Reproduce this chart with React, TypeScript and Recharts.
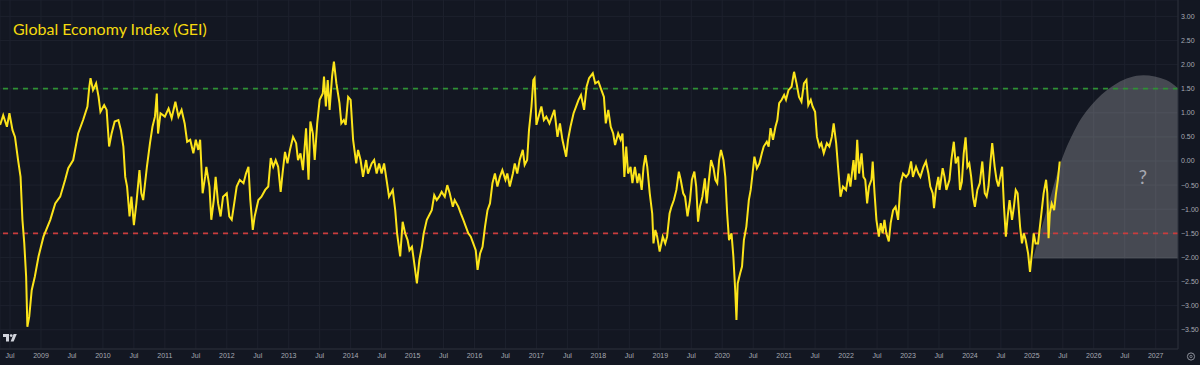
import React from 'react';
import {
  ComposedChart,
  Line,
  Area,
  XAxis,
  YAxis,
  CartesianGrid,
  ReferenceLine,
  ReferenceDot
} from 'recharts';

// GEI readings, decimal years in segments
const dates2008 = [2008.34, 2008.39, 2008.45, 2008.49, 2008.54, 2008.58, 2008.63, 2008.67, 2008.70, 2008.73, 2008.76, 2008.78, 2008.81, 2008.85, 2008.90, 2008.96,
  2009.04, 2009.15, 2009.23, 2009.31, 2009.39, 2009.44, 2009.52, 2009.60, 2009.68, 2009.75, 2009.78, 2009.80, 2009.84, 2009.89, 2009.93, 2009.96,
  2010.02, 2010.06, 2010.10, 2010.14, 2010.19, 2010.25, 2010.29, 2010.33, 2010.36, 2010.39, 2010.43, 2010.46, 2010.50, 2010.54, 2010.59, 2010.62, 2010.65, 2010.71, 2010.76, 2010.80, 2010.84, 2010.87, 2010.89, 2010.93,
  2011.00, 2011.06, 2011.11, 2011.17, 2011.22, 2011.27, 2011.32, 2011.36];
const gei2008 = [0.75, 0.95, 0.71, 0.99, 0.64, 0.50, 0.02, -0.33, -1.22, -1.71, -2.40, -3.44, -3.23, -2.68, -2.40, -1.98,
  -1.57, -1.22, -0.88, -0.74, -0.39, -0.15, 0.02, 0.57, 0.85, 1.13, 1.54, 1.72, 1.47, 1.61, 1.33, 1.02,
  1.16, 1.06, 0.30, 0.57, 0.82, 0.85, 0.64, 0.30, -0.33, -0.53, -1.15, -0.74, -1.33, -0.88, -0.19, -0.67, -0.81, -0.12, 0.37, 0.71, 0.92, 1.40, 0.57, 0.99,
  0.92, 1.09, 0.89, 1.23, 0.92, 1.06, 0.78, 0.40];

const dates2011 = [2011.41, 2011.46, 2011.50, 2011.54, 2011.57, 2011.61, 2011.65, 2011.67, 2011.72, 2011.75, 2011.79, 2011.82, 2011.86, 2011.90, 2011.94,
  2012.00, 2012.04, 2012.08, 2012.12, 2012.16, 2012.21, 2012.27, 2012.31, 2012.35, 2012.38, 2012.42, 2012.45, 2012.51, 2012.56, 2012.62, 2012.67, 2012.71, 2012.75, 2012.79, 2012.83, 2012.87, 2012.90, 2012.94, 2012.98,
  2013.02, 2013.07, 2013.12, 2013.15, 2013.19, 2013.23, 2013.28, 2013.32, 2013.35, 2013.39, 2013.42, 2013.46, 2013.50, 2013.55, 2013.57, 2013.60, 2013.63, 2013.66, 2013.70, 2013.73, 2013.77, 2013.82, 2013.85, 2013.89, 2013.92, 2013.96,
  2014.00, 2014.04, 2014.09, 2014.12, 2014.16, 2014.20, 2014.25, 2014.28, 2014.34, 2014.38, 2014.42, 2014.46, 2014.50, 2014.54, 2014.58, 2014.62];
const gei2011 = [0.44, 0.16, 0.44, 0.23, 0.44, -0.67, -0.33, -0.12, -0.53, -1.22, -0.81, -0.33, -0.88, -1.15, -0.74,
  -0.67, -1.15, -1.22, -0.88, -0.53, -0.39, -0.46, -0.26, -0.12, -0.81, -1.43, -1.15, -0.81, -0.74, -0.60, -0.53, 0.06, -0.12, 0.02, -0.12, -0.64, -0.26, 0.19, -0.05,
  0.23, 0.50, 0.37, 0.02, 0.16, -0.19, 0.68, -0.39, 0.82, 0.57, 0.02, 0.78, 1.27, 1.40, 1.75, 1.13, 1.68, 1.06, 1.75, 2.06, 1.61, 1.20, 0.78, 0.85, 0.75, 1.33,
  1.27, 0.44, -0.05, 0.23, 0.02, -0.33, 0.02, -0.26, -0.05, 0.02, -0.26, -0.05, -0.26, -0.05, -0.39, -0.74];

const dates2014 = [2014.68, 2014.72, 2014.75, 2014.80, 2014.84, 2014.88, 2014.92, 2014.95, 2014.99,
  2015.02, 2015.07, 2015.11, 2015.15, 2015.18, 2015.23, 2015.27, 2015.31, 2015.35, 2015.39, 2015.43, 2015.47, 2015.52, 2015.56, 2015.60, 2015.65, 2015.68, 2015.74, 2015.78, 2015.82, 2015.86, 2015.90, 2015.94, 2015.98,
  2016.02, 2016.05, 2016.09, 2016.13, 2016.17, 2016.21, 2016.25, 2016.29, 2016.33, 2016.37, 2016.41, 2016.45, 2016.50, 2016.53, 2016.57, 2016.62, 2016.65, 2016.69, 2016.73, 2016.78, 2016.81, 2016.85, 2016.88, 2016.92, 2016.95, 2016.97,
  2017.00, 2017.05, 2017.08, 2017.12, 2017.16, 2017.21, 2017.25, 2017.29, 2017.34, 2017.38, 2017.42, 2017.48, 2017.51, 2017.55, 2017.60, 2017.64, 2017.68, 2017.72, 2017.77, 2017.81, 2017.85];
const gei2014 = [-0.60, -1.02, -1.50, -1.98, -1.26, -1.50, -1.64, -1.85, -1.78,
  -2.05, -2.54, -2.05, -1.78, -1.50, -1.22, -1.12, -1.02, -0.71, -0.81, -0.74, -0.64, -0.74, -0.50, -0.67, -0.95, -0.81, -0.95, -1.09, -1.22, -1.36, -1.50, -1.57, -1.71,
  -1.85, -2.26, -1.92, -1.78, -1.36, -1.02, -0.88, -0.46, -0.26, -0.53, -0.33, -0.19, -0.39, -0.26, -0.53, -0.26, -0.05, -0.26, 0.02, 0.23, -0.08, 0.02, 0.64, 1.13, 1.68, 1.72,
  0.75, 0.99, 1.13, 0.85, 0.92, 0.78, 0.92, 1.06, 0.50, 0.78, 0.44, 0.09, 0.44, 0.71, 0.99, 1.13, 1.27, 1.37, 1.06, 1.54, 1.72];

const dates2017 = [2017.91, 2017.95,
  2018.00, 2018.05, 2018.09, 2018.12, 2018.16, 2018.20, 2018.24, 2018.27, 2018.32, 2018.36, 2018.39, 2018.42, 2018.45, 2018.48, 2018.52, 2018.55, 2018.59, 2018.63, 2018.66, 2018.70, 2018.73, 2018.76, 2018.79, 2018.83, 2018.87, 2018.89, 2018.92, 2018.95, 2018.99,
  2019.04, 2019.08, 2019.11, 2019.15, 2019.18, 2019.22, 2019.26, 2019.30, 2019.33, 2019.37, 2019.40, 2019.44, 2019.48, 2019.51, 2019.55, 2019.58, 2019.61, 2019.64, 2019.68, 2019.72, 2019.75, 2019.78, 2019.82, 2019.86, 2019.89, 2019.92, 2019.95, 2019.98,
  2020.02, 2020.05, 2020.08, 2020.11, 2020.15, 2020.18, 2020.21, 2020.23, 2020.25, 2020.29, 2020.32, 2020.35, 2020.39, 2020.43, 2020.46, 2020.49, 2020.52, 2020.56, 2020.60, 2020.64, 2020.67, 2020.72, 2020.75, 2020.78, 2020.82, 2020.86, 2020.89, 2020.92, 2020.96,
  2021.00, 2021.03, 2021.07];
const gei2017 = [1.82, 1.61,
  1.65, 1.47, 1.33, 0.78, 1.06, 0.71, 0.57, 0.33, 0.57, 0.44, 0.57, -0.33, 0.30, -0.26, -0.12, -0.46, -0.12, -0.46, -0.26, -0.60, -0.12, 0.12, -0.12, -0.67, -1.09, -1.71, -1.43, -1.57, -1.88,
  -1.57, -1.71, -1.57, -1.09, -0.95, -0.81, -0.60, -0.22, -0.39, -0.67, -0.74, -1.15, -0.81, -0.39, -0.22, -0.53, -1.26, -0.95, -0.74, -0.36, -0.88, -0.46, 0.02, -0.15, -0.39, -0.46, 0.02, 0.23,
  0.02, -0.33, -1.09, -1.64, -1.50, -1.98, -2.68, -3.30, -2.54, -2.33, -2.19, -1.64, -1.36, -0.81, -0.60, -0.26, 0.09, -0.15, -0.05, 0.16, 0.30, 0.40, 0.30, 0.68, 0.44, 0.71, 0.85, 1.20, 1.27,
  1.37, 1.27, 1.47];

const dates2021 = [2021.12, 2021.16, 2021.20, 2021.24, 2021.28, 2021.32, 2021.36, 2021.39, 2021.43, 2021.46, 2021.50, 2021.53, 2021.57, 2021.60, 2021.64, 2021.69, 2021.73, 2021.77, 2021.80, 2021.84, 2021.87, 2021.91, 2021.95,
  2022.00, 2022.04, 2022.07, 2022.12, 2022.15, 2022.18, 2022.21, 2022.25, 2022.28, 2022.31, 2022.34, 2022.37, 2022.41, 2022.43, 2022.46, 2022.49, 2022.53, 2022.56, 2022.59, 2022.62, 2022.65, 2022.69, 2022.72, 2022.76, 2022.80, 2022.84, 2022.88, 2022.92, 2022.97,
  2023.01, 2023.05, 2023.08, 2023.13, 2023.17, 2023.20, 2023.25, 2023.29, 2023.33, 2023.36, 2023.40, 2023.42, 2023.45, 2023.49];
const gei2021 = [1.54, 1.85, 1.61, 1.33, 1.23, 1.61, 1.68, 1.16, 1.27, 1.13, 1.02, 0.50, 0.30, 0.37, 0.16, 0.37, 0.30, 0.50, 0.78, 0.37, -0.12, -0.74, -0.53,
  -0.60, -0.26, -0.53, 0.02, -0.39, 0.44, -0.26, 0.16, -0.33, -0.39, -0.88, -0.53, -0.39, -0.01, -0.67, -1.22, -1.57, -1.29, -1.50, -1.22, -1.50, -1.67, -1.29, -1.02, -0.95, -1.22, -0.46, -0.26, -0.33,
  -0.26, -0.01, -0.33, -0.12, -0.26, -0.33, -0.12, -0.01, -0.26, -0.53, -0.67, -0.98, -0.60, -0.33];

const dates2023 = [2023.51, 2023.56, 2023.59, 2023.62, 2023.67, 2023.70, 2023.74, 2023.77, 2023.81, 2023.84, 2023.87, 2023.90, 2023.93, 2023.96, 2023.99,
  2024.02, 2024.05, 2024.08, 2024.12, 2024.16, 2024.20, 2024.24, 2024.27, 2024.30, 2024.33, 2024.36, 2024.40, 2024.43, 2024.46, 2024.49, 2024.52, 2024.55, 2024.58, 2024.61, 2024.64, 2024.68, 2024.71, 2024.74, 2024.77, 2024.81, 2024.84, 2024.87, 2024.90, 2024.94, 2024.97,
  2025.00, 2025.03, 2025.06, 2025.10, 2025.13, 2025.16, 2025.19, 2025.23, 2025.25, 2025.27, 2025.29, 2025.32, 2025.36, 2025.39, 2025.42, 2025.45];
const gei2023 = [-0.60, -0.15, -0.33, -0.60, -0.39, 0.02, 0.40, -0.05, 0.09, -0.60, -0.43, 0.16, 0.49, -0.12, -0.05,
  -0.33, -0.74, -0.95, -0.60, -0.46, -0.01, -0.67, -0.74, -0.53, -0.05, 0.37, -0.12, -0.39, -0.53, -0.33, -0.12, -0.95, -1.57, -1.15, -0.81, -1.22, -0.95, -0.60, -0.67, -1.36, -1.71, -1.50, -1.64, -1.92, -2.30,
  -1.92, -1.50, -1.71, -1.71, -1.36, -1.02, -0.67, -0.39, -0.67, -1.60, -1.09, -0.88, -1.02, -0.67, -0.39, -0.01];

// projected range (grey cone)
const projDates = [2025.02, 2025.13, 2025.24, 2025.48, 2025.72, 2026.04, 2026.37, 2026.80, 2027.17, 2027.36];
const projLow = [-2.02, -2.02, -2.02, -2.02, -2.02, -2.02, -2.02, -2.02, -2.02, -2.02];
const projHigh = [-2.02, -1.50, -1.02, 0.02, 0.71, 1.27, 1.61, 1.78, 1.68, 1.51];

const xTicks = [2008.5, 2009, 2009.5, 2010, 2010.5, 2011, 2011.5, 2012, 2012.5, 2013, 2013.5, 2014, 2014.5, 2015, 2015.5,
  2016, 2016.5, 2017, 2017.5, 2018, 2018.5, 2019, 2019.5, 2020, 2020.5, 2021, 2021.5, 2022, 2022.5, 2023, 2023.5,
  2024, 2024.5, 2025, 2025.5, 2026, 2026.5, 2027];
const yTicks = [3, 2.5, 2, 1.5, 1, 0.5, 0, -0.5, -1, -1.5, -2, -2.5, -3, -3.5];

const upperBand = 1.5;
const lowerBand = -1.5;

const dateSegments = [dates2008, dates2011, dates2014, dates2017, dates2021, dates2023];
const geiSegments = [gei2008, gei2011, gei2014, gei2017, gei2021, gei2023];

const lineData = dateSegments.flatMap((ds, s) => ds.map((t, i) => ({ t, gei: geiSegments[s][i] })));
const projData = projDates.map((t, i) => ({ t, band: [projLow[i], projHigh[i]] }));

const BG = '#131722';
const AXIS_TEXT = '#a6a9b2';

const fmtY = (v: number) => (v < 0 ? '\u2212' : '') + Math.abs(v).toFixed(2);
const fmtX = (v: number) => (Number.isInteger(v) ? String(v) : 'Jul');

export default function App() {
  return (
    <div style={{ position: 'absolute', left: 0, top: 0, width: 1200, height: 365, background: BG, overflow: 'hidden' }}>
      <ComposedChart width={1200} height={365} margin={{ top: 0, right: 0, bottom: 0, left: 0 }}>
        <CartesianGrid stroke="#1d212d" strokeWidth={1} />
        <XAxis
          type="number"
          dataKey="t"
          domain={[2008.338, 2027.36]}
          allowDataOverflow
          ticks={xTicks}
          tickFormatter={fmtX}
          height={16}
          tickSize={0}
          tickMargin={4}
          tickLine={false}
          axisLine={{ stroke: '#2a2e39' }}
          tick={{ fill: AXIS_TEXT, fontSize: 7, fontFamily: 'Liberation Sans' }}
          interval={0}
        />
        <YAxis
          type="number"
          orientation="right"
          domain={[-3.9, 3.34]}
          allowDataOverflow
          ticks={yTicks}
          tickFormatter={fmtY}
          width={22}
          tickSize={0}
          tickMargin={3}
          tickLine={false}
          axisLine={{ stroke: '#2a2e39' }}
          tick={{ fill: AXIS_TEXT, fontSize: 7, fontFamily: 'Liberation Sans' }}
          interval={0}
        />
        <Area
          data={projData}
          dataKey="band"
          type="monotone"
          stroke="none"
          fill="#ffffff"
          fillOpacity={0.22}
          isAnimationActive={false}
        />
        <ReferenceLine y={upperBand} stroke="#2f8f35" strokeWidth={1.8} strokeDasharray="5 5" />
        <ReferenceLine y={lowerBand} stroke="#c93c3c" strokeWidth={1.8} strokeDasharray="5 5" />
        <Line
          data={lineData}
          dataKey="gei"
          type="linear"
          stroke="#fce41a"
          strokeWidth={2}
          dot={false}
          isAnimationActive={false}
        />
        <ReferenceDot
          x={2026.79}
          y={-0.33}
          r={1}
          fill="none"
          stroke="none"
          label={{ value: '?', position: 'center', fill: '#a7aab2', fontSize: 19, fontFamily: 'Lato' }}
        />
      </ComposedChart>
      <div
        style={{
          position: 'absolute',
          left: 13,
          top: 21,
          fontFamily: 'Lato',
          fontSize: 16,
          lineHeight: '16px',
          color: '#f5da0e',
          whiteSpace: 'nowrap'
        }}
      >
        Global Economy Index (GEI)
      </div>
      <svg style={{ position: 'absolute', left: 0, top: 0 }} width={1200} height={365}>
        <path d="M3 334 h6 v7.5 h-3 v-4.5 h-3 z" fill="#d1d4dc" />
        <circle cx={11.2} cy={335.6} r={1.4} fill="#d1d4dc" />
        <path d="M13.6 334 h3.2 l-3.2 7.5 h-3 z" fill="#d1d4dc" />
        <circle cx={1191} cy={356.5} r={3.6} fill="none" stroke="#8d909a" strokeWidth={1} />
        <circle cx={1191} cy={356.5} r={1.2} fill="none" stroke="#8d909a" strokeWidth={0.8} />
      </svg>
    </div>
  );
}
